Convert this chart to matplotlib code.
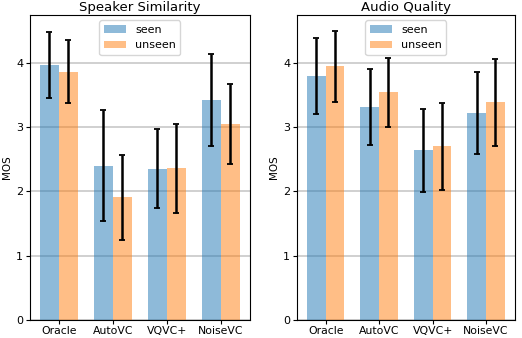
import matplotlib.pyplot as plt
import numpy as np

systems = ["Oracle", "AutoVC", "VQVC+", "NoiseVC"]
groups = ["seen", "unseen"]

# speaker similarity MOS
sim_seen = [3.965, 2.40, 2.35, 3.42]
sim_seen_err = [0.515, 0.865, 0.615, 0.72]
sim_unseen = [3.855, 1.905, 2.36, 3.05]
sim_unseen_err = [0.49, 0.665, 0.69, 0.62]

# audio quality MOS
qual_seen = [3.79, 3.315, 2.64, 3.22]
qual_seen_err = [0.59, 0.59, 0.645, 0.635]
qual_unseen = [3.94, 3.54, 2.70, 3.38]
qual_unseen_err = [0.555, 0.535, 0.675, 0.67]

titles = ["Speaker Similarity", "Audio Quality"]

fig = plt.figure(figsize=(5.22, 3.38), dpi=100)
ax1 = fig.add_axes([0.0575, 0.053, 0.421, 0.903])
ax2 = fig.add_axes([0.569, 0.053, 0.417, 0.903])

x = np.arange(len(systems))
w = 0.35
data = [(sim_seen, sim_seen_err, sim_unseen, sim_unseen_err),
        (qual_seen, qual_seen_err, qual_unseen, qual_unseen_err)]

for ax, title, (s, se, u, ue) in zip([ax1, ax2], titles, data):
    ax.set_axisbelow(True)
    ax.yaxis.grid(True, color="#c8c8c8", linewidth=1.2)
    ebar = dict(ecolor="black", elinewidth=1.8, capsize=2.2, capthick=1.3)
    ax.bar(x - w / 2, s, w, yerr=se, color="tab:blue", alpha=0.5,
           label=groups[0], error_kw=ebar)
    ax.bar(x + w / 2, u, w, yerr=ue, color="tab:orange", alpha=0.5,
           label=groups[1], error_kw=ebar)
    ax.set_xticks(x)
    ax.set_xticklabels(systems, fontsize=7.8)
    ax.set_yticks([0, 1, 2, 3, 4])
    ax.tick_params(axis="y", labelsize=8, length=3, pad=2)
    ax.tick_params(axis="x", length=3, pad=1.5)
    ax.set_ylabel("MOS", fontsize=7.5, labelpad=3)
    ax.set_title(title, fontsize=9.5, pad=3)
    ax.set_ylim(0, 4.74)
    ax.legend(loc="upper center", fontsize=8)

fig.savefig("out.png", dpi=100)
